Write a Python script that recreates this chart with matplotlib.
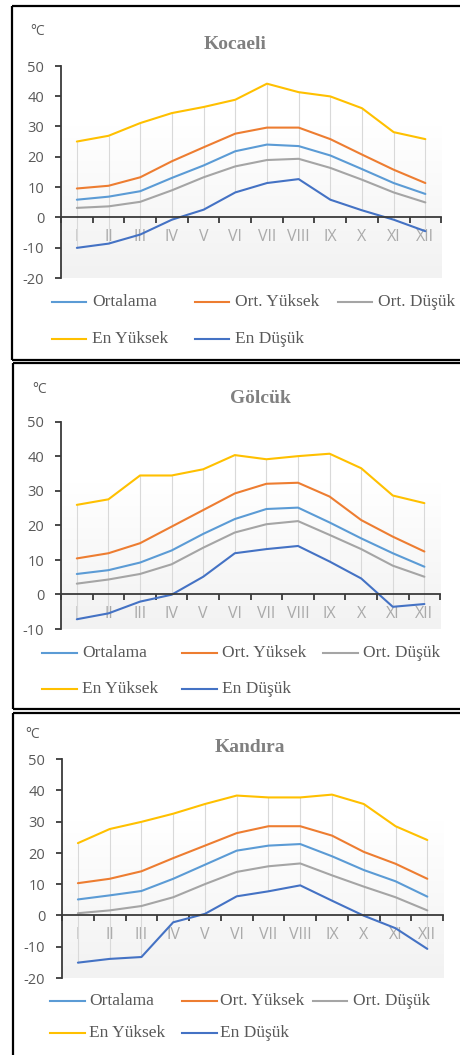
import matplotlib
matplotlib.use('Agg')
import matplotlib.pyplot as plt
import numpy as np
from matplotlib.lines import Line2D
from matplotlib.colors import LinearSegmentedColormap

# ---------------- data ----------------
months = ['I', 'II', 'III', 'IV', 'V', 'VI', 'VII', 'VIII', 'IX', 'X', 'XI', 'XII']
series_names = ['Ortalama', 'Ort. Yüksek', 'Ort. Düşük', 'En Yüksek', 'En Düşük']
series_colors = ['#5b9bd5', '#ed7d31', '#a5a5a5', '#ffc000', '#4472c4']

kocaeli_ortalama = [5.8, 6.8, 8.6, 13.0, 17.1, 21.8, 24.0, 23.5, 20.4, 15.9, 11.3, 7.7]
kocaeli_ort_yuksek = [9.5, 10.4, 13.2, 18.5, 23.1, 27.6, 29.6, 29.6, 25.8, 20.7, 15.7, 11.3]
kocaeli_ort_dusuk = [3.1, 3.6, 5.1, 8.9, 13.2, 16.8, 18.9, 19.3, 16.3, 12.4, 8.2, 4.9]
kocaeli_en_yuksek = [25.0, 26.9, 31.1, 34.4, 36.4, 38.8, 44.1, 41.3, 39.9, 36.0, 28.1, 25.8]
kocaeli_en_dusuk = [-10.1, -8.7, -5.7, -0.8, 2.5, 8.2, 11.3, 12.6, 5.8, 2.3, -0.8, -4.6]

golcuk_ortalama = [5.9, 7.0, 9.2, 12.7, 17.5, 21.8, 24.7, 25.1, 20.8, 16.2, 11.9, 8.0]
golcuk_ort_yuksek = [10.4, 11.9, 14.8, 19.6, 24.4, 29.2, 32.0, 32.3, 28.3, 21.5, 16.7, 12.4]
golcuk_ort_dusuk = [3.1, 4.3, 5.9, 8.7, 13.5, 17.9, 20.3, 21.2, 17.2, 13.1, 8.3, 5.1]
golcuk_en_yuksek = [25.9, 27.5, 34.4, 34.4, 36.2, 40.3, 39.1, 40.0, 40.7, 36.5, 28.6, 26.4]
golcuk_en_dusuk = [-7.2, -5.5, -2.1, -0.1, 5.1, 11.9, 13.1, 14.0, 9.5, 4.6, -3.6, -2.8]

kandira_ortalama = [5.1, 6.4, 7.8, 11.7, 16.2, 20.7, 22.3, 22.8, 18.9, 14.5, 10.9, 6.0]
kandira_ort_yuksek = [10.3, 11.7, 14.1, 18.3, 22.3, 26.3, 28.5, 28.5, 25.5, 20.3, 16.5, 11.7]
kandira_ort_dusuk = [0.7, 1.6, 3.0, 5.8, 10.0, 13.9, 15.7, 16.6, 12.8, 9.2, 5.8, 1.6]
kandira_en_yuksek = [23.1, 27.6, 29.9, 32.5, 35.6, 38.3, 37.7, 37.7, 38.6, 35.6, 28.5, 24.1]
kandira_en_dusuk = [-15.1, -13.9, -13.3, -2.2, 0.5, 6.1, 7.7, 9.6, 4.7, -0.1, -4.1, -10.7]

titles = ['Kocaeli', 'Gölcük', 'Kandıra']
y_mins = [-20, -10, -20]
y_max = 50
unit_label = '°C'

panels_data = [
    [kocaeli_ortalama, kocaeli_ort_yuksek, kocaeli_ort_dusuk, kocaeli_en_yuksek, kocaeli_en_dusuk],
    [golcuk_ortalama, golcuk_ort_yuksek, golcuk_ort_dusuk, golcuk_en_yuksek, golcuk_en_dusuk],
    [kandira_ortalama, kandira_ort_yuksek, kandira_ort_dusuk, kandira_en_yuksek, kandira_en_dusuk],
]

# ---------------- layout (pixels) ----------------
W, H = 460, 1055
fig = plt.figure(figsize=((W + 0.2) / 100, (H + 0.2) / 100), dpi=100)

SERIF = ['Liberation Serif', 'DejaVu Serif']
SANS = ['Open Sans', 'DejaVu Sans']

overlay = fig.add_axes([0, 0, 1, 1])
overlay.set_xlim(0, W)
overlay.set_ylim(H, 0)
overlay.axis('off')

layouts = [
    dict(border=(12, 6, 360), axes=(61, 66, 441, 278), grad_top=30,
         title=(235, 44), unit=(38, 31), rows=(302, 339),
         cols=[(52, 86, 92), (195, 229, 235), (338, 372, 378)]),
    dict(border=(13, 363, 709), axes=(61, 421.7, 440, 629), grad_top=32,
         title=(260, 398), unit=(40, 389), rows=(653, 689),
         cols=[(42, 77, 82), (182, 217, 222), (323, 358, 363)]),
    dict(border=(13, 713, None), axes=(62, 759, 443, 978), grad_top=30,
         title=(250, 747), unit=(33, 734), rows=(1001, 1033),
         cols=[(50, 85, 89), (182, 217, 220), (313, 347, 353)]),
]

grad_cmap = LinearSegmentedColormap.from_list('g', ['#ffffff', '#f2f2f2'])
AX_COL = '#3a3a3a'

for title, ymin, data, lay in zip(titles, y_mins, panels_data, layouts):
    bl, bt, bb = lay['border']
    bottom_y = bb if bb is not None else H + 5
    overlay.add_line(Line2D([bl, bl], [bt, bottom_y], color='black', lw=1.6,
                            clip_on=False, solid_capstyle='butt'))
    overlay.add_line(Line2D([bl, W + 5], [bt, bt], color='black', lw=1.6,
                            clip_on=False, solid_capstyle='butt'))
    if bb is not None:
        overlay.add_line(Line2D([bl, W + 5], [bb, bb], color='black', lw=1.6,
                                clip_on=False, solid_capstyle='butt'))

    overlay.text(lay['title'][0], lay['title'][1], title, ha='center', va='center',
                 fontsize=14, fontweight='bold', color='#808080', family=SERIF)
    overlay.text(lay['unit'][0], lay['unit'][1], unit_label, ha='center', va='center',
                 fontsize=10, color='#595959', family=SANS)

    # legend (manual, two rows)
    positions = [(0, 0), (0, 1), (0, 2), (1, 0), (1, 1)]
    for (r, c), name, col in zip(positions, series_names, series_colors):
        x0, x1, xt = lay['cols'][c]
        yy = lay['rows'][r]
        overlay.add_line(Line2D([x0, x1], [yy, yy], color=col, lw=1.5))
        overlay.text(xt, yy, name, ha='left', va='center', fontsize=12.5,
                     color='#595959', family=SERIF)

    l, t, r_, b = lay['axes']
    ax = fig.add_axes([l / W, 1 - b / H, (r_ - l) / W, (b - t) / H])
    ax.patch.set_alpha(0)
    x = np.arange(len(months))

    ax.imshow(np.linspace(0, 1, 256).reshape(-1, 1), cmap=grad_cmap, aspect='auto',
              extent=(-0.5, len(months) - 0.5, ymin, lay['grad_top']),
              origin='upper', zorder=0.1, interpolation='bilinear')

    arr = np.array(data)
    ax.vlines(x, arr.min(axis=0), arr.max(axis=0), color='#d9d9d9', lw=0.8, zorder=1)
    for vals, col in zip(data, series_colors):
        ax.plot(x, vals, color=col, lw=1.5, zorder=2, solid_capstyle='round')

    ax.set_xlim(-0.5, len(months) - 0.5)
    ax.set_ylim(ymin, y_max)
    ax.set_axisbelow(True)

    for s in ['top', 'right']:
        ax.spines[s].set_visible(False)
    ax.spines['bottom'].set_position(('data', 0))
    ax.spines['bottom'].set_color(AX_COL)
    ax.spines['bottom'].set_linewidth(1.3)
    ax.spines['left'].set_color(AX_COL)
    ax.spines['left'].set_linewidth(1.3)

    ax.set_xticks(x)
    ax.set_xticklabels(months, family=SANS)
    ax.set_xticks(np.arange(-0.5, len(months), 1), minor=True)
    ax.tick_params(axis='x', which='major', length=0, pad=8, labelcolor='#aaaaaa', labelsize=11.5)
    ax.tick_params(axis='x', which='minor', length=4, width=1.3, color=AX_COL, direction='out')

    ax.set_yticks(np.arange(ymin, y_max + 1, 10))
    ax.set_yticklabels([str(v) for v in np.arange(ymin, y_max + 1, 10)], family=SANS)
    ax.tick_params(axis='y', length=4, width=1.3, color=AX_COL, labelcolor='#595959',
                   labelsize=10.5, pad=8)

fig.savefig('out.png', dpi=100)
